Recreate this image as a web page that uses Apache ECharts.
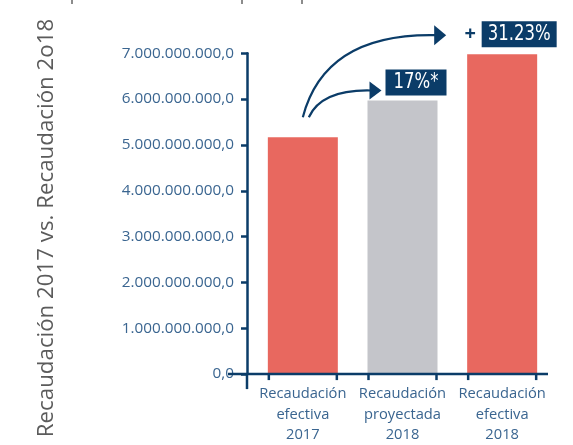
<!DOCTYPE html>
<html><head><meta charset="utf-8">
<script src="https://cdn.jsdelivr.net/npm/echarts@6/dist/echarts.min.js"></script>
<style>html,body{margin:0;padding:0;background:#fff}#c{width:573px;height:445px}</style>
</head><body><div id="c"></div>
<script>
const categories = ['Recaudación\nefectiva\n2017', 'Recaudación\nproyectada\n2018', 'Recaudación\nefectiva\n2018'];
const values = [5170000000, 5970000000, 6980000000];
const barColors = ['#E8685F', '#C4C5CA', '#E8685F'];
const yMin = 0, yMax = 7000000000, yInterval = 1000000000;
const titleText = 'Recaudación 2017 vs. Recaudación 2o18';
const growthLabels = ['17%*', '31.23%'];

const NAVY = '#0B3C68';
const LABEL = '#3A6590';

function fmt(v) {
  const s = Math.round(v).toString().replace(/\B(?=(\d{3})+(?!\d))/g, '.');
  return s + ',0';
}

const chart = echarts.init(document.getElementById('c'), null, {renderer: 'canvas'});
chart.setOption({
  animation: false,
  backgroundColor: '#fff',
  grid: {left: 253, right: 21, top: 53.3, bottom: 68.3, containLabel: false},
  xAxis: {
    type: 'category', data: categories,
    axisLine: {show: false}, axisTick: {show: false},
    axisLabel: {color: LABEL, fontFamily: 'Open Sans', fontSize: 14.7, lineHeight: 20.3, margin: 10, interval: 0}
  },
  yAxis: {
    type: 'value', min: yMin, max: yMax, interval: yInterval, offset: 6,
    splitLine: {show: false},
    axisLine: {show: true, lineStyle: {color: NAVY, width: 2.5}},
    axisTick: {show: true, length: 6, lineStyle: {color: NAVY, width: 2.5}},
    axisLabel: {color: LABEL, fontFamily: 'Open Sans', fontSize: 15.3, margin: 13, formatter: fmt}
  },
  series: [
    {
      type: 'bar', barWidth: 70,
      data: values.map((v, i) => ({value: v, itemStyle: {color: barColors[i]}}))
    },
    {
      type: 'custom', silent: true, z: 5,
      data: values.map((v, i) => [i, v]),
      renderItem: function (params, api) {
        const c = api.coord([api.value(0), 0]);
        const cs = params.coordSys;
        const st = {stroke: NAVY, lineWidth: 2.5};
        const ch = [
          {type: 'line', shape: {x1: c[0] - 34, y1: c[1], x2: c[0] - 34, y2: c[1] + 6}, style: st},
          {type: 'line', shape: {x1: c[0] + 34, y1: c[1], x2: c[0] + 34, y2: c[1] + 6}, style: st}
        ];
        if (params.dataIndex === 0) {
          ch.push({type: 'line', shape: {x1: cs.x - 25, y1: c[1], x2: cs.x + cs.width - 4, y2: c[1]}, style: st});
          ch.push({type: 'line', shape: {x1: cs.x - 6, y1: c[1], x2: cs.x - 6, y2: c[1] + 15}, style: st});
        }
        return {type: 'group', children: ch};
      }
    }
  ]
});

const p0 = chart.convertToPixel({seriesIndex: 0}, [0, values[0]]);
const p1 = chart.convertToPixel({seriesIndex: 0}, [1, values[1]]);
const p2 = chart.convertToPixel({seriesIndex: 0}, [2, values[2]]);

const arrowStyle = {stroke: NAVY, lineWidth: 2.2, fill: null};
const boxFont = {fontFamily: 'DejaVu Sans', fontSize: 22, fill: '#fff'};

chart.setOption({
  graphic: [
    {type: 'text', x: 47, y: 228, rotation: Math.PI / 2,
     style: {text: titleText, fontFamily: 'Open Sans', fontSize: 22.3, fill: '#5B5B5B', align: 'center', verticalAlign: 'middle'}},
    {type: 'line', shape: {x1: 72, y1: 0, x2: 72, y2: 4}, style: {stroke: '#666', lineWidth: 1.5}},
    {type: 'line', shape: {x1: 242, y1: 0, x2: 242, y2: 4}, style: {stroke: '#666', lineWidth: 1.5}},
    {type: 'line', shape: {x1: 302, y1: 0, x2: 302, y2: 4}, style: {stroke: '#666', lineWidth: 1.5}},
    // arrow 1
    {type: 'bezierCurve', shape: {x1: p0[0] + 6, y1: p0[1] - 20, cpx1: p0[0] + 19, cpy1: p1[1] - 11, x2: p1[0] - 32, y2: p1[1] - 10}, style: arrowStyle},
    {type: 'polygon', shape: {points: [[p1[0] - 33, p1[1] - 19], [p1[0] - 21, p1[1] - 10], [p1[0] - 33, p1[1] - 1]]}, style: {fill: NAVY}},
    // arrow 2
    {type: 'bezierCurve', shape: {x1: p0[0], y1: p0[1] - 20, cpx1: p0[0] + 22, cpy1: p2[1] - 21, x2: p2[0] - 67, y2: p2[1] - 19}, style: arrowStyle},
    {type: 'polygon', shape: {points: [[p2[0] - 68, p2[1] - 29], [p2[0] - 56, p2[1] - 19], [p2[0] - 68, p2[1] - 9]]}, style: {fill: NAVY}},
    // label 1
    {type: 'rect', shape: {x: p1[0] - 17, y: p1[1] - 31, width: 61, height: 26}, style: {fill: NAVY}},
    {type: 'text', x: p1[0] + 13.5, y: p1[1] - 18, scaleX: 0.75,
     style: Object.assign({text: growthLabels[0], align: 'center', verticalAlign: 'middle'}, boxFont)},
    // label 2
    {type: 'text', x: p2[0] - 32, y: p2[1] - 20, style: {text: '+', fontFamily: 'Open Sans', fontSize: 20, fontWeight: 'bold', fill: NAVY, align: 'center', verticalAlign: 'middle'}},
    {type: 'rect', shape: {x: p2[0] - 20.5, y: p2[1] - 33, width: 75, height: 26}, style: {fill: NAVY}},
    {type: 'text', x: p2[0] + 17, y: p2[1] - 20, scaleX: 0.75,
     style: Object.assign({text: growthLabels[1], align: 'center', verticalAlign: 'middle'}, boxFont)}
  ]
});
</script>
</body></html>
